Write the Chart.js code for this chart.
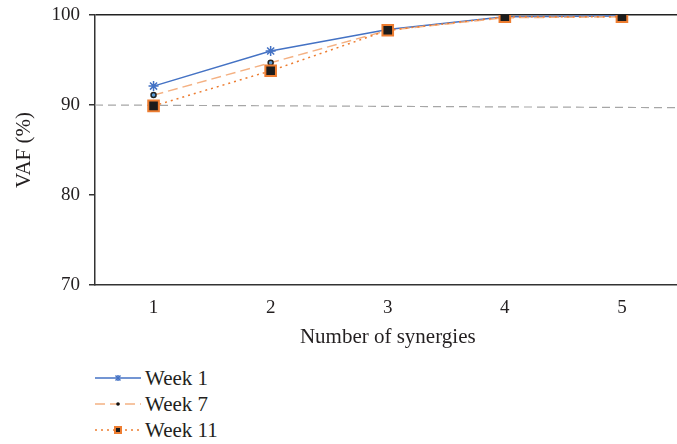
<!DOCTYPE html>
<html><head><meta charset="utf-8">
<script src="https://cdn.jsdelivr.net/npm/chart.js@4"></script>
<style>
html,body{margin:0;padding:0;background:#fff;overflow:hidden;width:677px;height:444px;}
#wrap{position:absolute;left:0;top:0;width:690px;height:360px;}
#legend{position:absolute;left:95px;top:365px;font-family:"Liberation Serif",serif;font-size:21px;color:#231f20;}
.row{height:26px;display:flex;align-items:center;}
.row svg{margin-right:4px;}
</style></head><body>
<div id="wrap"><canvas id="c" width="690" height="360"></canvas></div>
<div id="legend"></div>
<script>
const synergies = [1, 2, 3, 4, 5];
const tickLabels = ['1', '2', '3', '4', '5'];
const seriesNames = ['Week 1', 'Week 7', 'Week 11'];
const week1 = [92.1, 96.0, 98.4, 99.8, 99.9];
const week7 = [91.1, 94.7, 98.3, 99.7, 99.8];
const week11 = [89.9, 93.8, 98.3, 99.8, 99.8];
const refX = [0.5, 5.5];
const refY = [90.0, 89.7];
const xTitle = 'Number of synergies';
const yTitle = 'VAF (%)';

const styles = [
  {color:'#4472C4', dash:[], point:'star', r:5, bg:'#4472C4', pb:'#4472C4', pbw:1.5},
  {color:'#F4B183', dash:[10,5], point:'circle', r:2.5, bg:'#5B9BD5', pb:'#222', pbw:1.5},
  {color:'#ED7D31', dash:[2,4], point:'rect', r:7.5, bg:'#1c1c1c', pb:'#ED7D31', pbw:2}
];
const seriesData = [week1, week7, week11];
const orders = [2, 1, 0];

Chart.defaults.font.family = '"Liberation Serif", serif';
Chart.defaults.color = '#231f20';

const datasets = seriesNames.map((name, i) => ({
  label: name,
  data: synergies.map((x, j) => ({x: x, y: seriesData[i][j]})),
  borderColor: styles[i].color,
  borderDash: styles[i].dash,
  borderWidth: 1.5,
  pointStyle: styles[i].point,
  pointRadius: styles[i].r,
  pointBackgroundColor: styles[i].bg,
  pointBorderColor: styles[i].pb,
  pointBorderWidth: styles[i].pbw,
  tension: 0,
  order: orders[i]
}));
datasets.push({
  label: 'ref',
  data: refX.map((x, j) => ({x: x, y: refY[j]})),
  borderColor: '#A6A6A6',
  borderDash: [8, 5],
  borderWidth: 1.2,
  pointRadius: 0,
  order: 3
});

new Chart(document.getElementById('c'), {
  type: 'line',
  data: {datasets: datasets},
  options: {
    responsive: false,
    animation: false,
    devicePixelRatio: 1,
    layout: {padding: {top: 15, right: 1, left: 0, bottom: 0}},
    plugins: {legend: {display: false}, tooltip: {enabled: false}},
    scales: {
      x: {
        type: 'linear', min: 0.5, max: 5.5,
        afterBuildTicks: s => { s.ticks = synergies.map(v => ({value: v})); },
        afterFit: s => { s.height = 75; s.paddingLeft = 0; s.paddingRight = 0; },
        ticks: {font: {size: 19}, padding: 12, callback: (v, i) => tickLabels[i]},
        grid: {display: true, drawOnChartArea: false, drawTicks: false},
        border: {display: true, color: '#333', width: 1.5},
        title: {display: true, text: xTitle, font: {size: 21}, padding: {top: 4, bottom: 10}}
      },
      y: {
        min: 70, max: 100,
        afterFit: s => { s.width = 95; s.paddingTop = 0; s.paddingBottom = 0; },
        ticks: {stepSize: 10, font: {size: 19}, padding: 9},
        grid: {
          drawOnChartArea: true, drawTicks: true, tickLength: 6,
          tickColor: '#333', tickWidth: 1.5,
          color: c => (c.tick && c.tick.value === 100) ? '#222' : 'rgba(0,0,0,0)',
          lineWidth: 1.5
        },
        border: {display: true, color: '#333', width: 1.5},
        title: {display: true, text: yTitle, font: {size: 21}, padding: {top: 12, bottom: 0}}
      }
    }
  }
});

// HTML legend built from the series definitions
const legend = document.getElementById('legend');
seriesNames.forEach((name, i) => {
  const st = styles[i];
  const row = document.createElement('div');
  row.className = 'row';
  const ns = 'http://www.w3.org/2000/svg';
  const svg = document.createElementNS(ns, 'svg');
  svg.setAttribute('width', '46'); svg.setAttribute('height', '14');
  const line = document.createElementNS(ns, 'line');
  line.setAttribute('x1', '0'); line.setAttribute('x2', '46');
  line.setAttribute('y1', '7'); line.setAttribute('y2', '7');
  line.setAttribute('stroke', st.color); line.setAttribute('stroke-width', '1.5');
  if (st.dash.length) line.setAttribute('stroke-dasharray', st.dash.join(' '));
  svg.appendChild(line);
  if (st.point === 'star') {
    [[20.5,4.5,25.5,9.5],[20.5,9.5,25.5,4.5],[23,4,23,10]].forEach(p => {
      const l = document.createElementNS(ns, 'line');
      l.setAttribute('x1', p[0]); l.setAttribute('y1', p[1]);
      l.setAttribute('x2', p[2]); l.setAttribute('y2', p[3]);
      l.setAttribute('stroke', st.color); l.setAttribute('stroke-width', '1.5');
      svg.appendChild(l);
    });
  } else if (st.point === 'circle') {
    const c = document.createElementNS(ns, 'circle');
    c.setAttribute('cx', '23'); c.setAttribute('cy', '7'); c.setAttribute('r', '1.8');
    c.setAttribute('fill', '#111');
    svg.appendChild(c);
  } else {
    const r = document.createElementNS(ns, 'rect');
    r.setAttribute('x', '20'); r.setAttribute('y', '4');
    r.setAttribute('width', '6'); r.setAttribute('height', '6');
    r.setAttribute('fill', '#1c1c1c'); r.setAttribute('stroke', st.color); r.setAttribute('stroke-width', '2');
    svg.appendChild(r);
  }
  row.appendChild(svg);
  const t = document.createElement('span');
  t.textContent = name;
  row.appendChild(t);
  legend.appendChild(row);
});
</script>
</body></html>
